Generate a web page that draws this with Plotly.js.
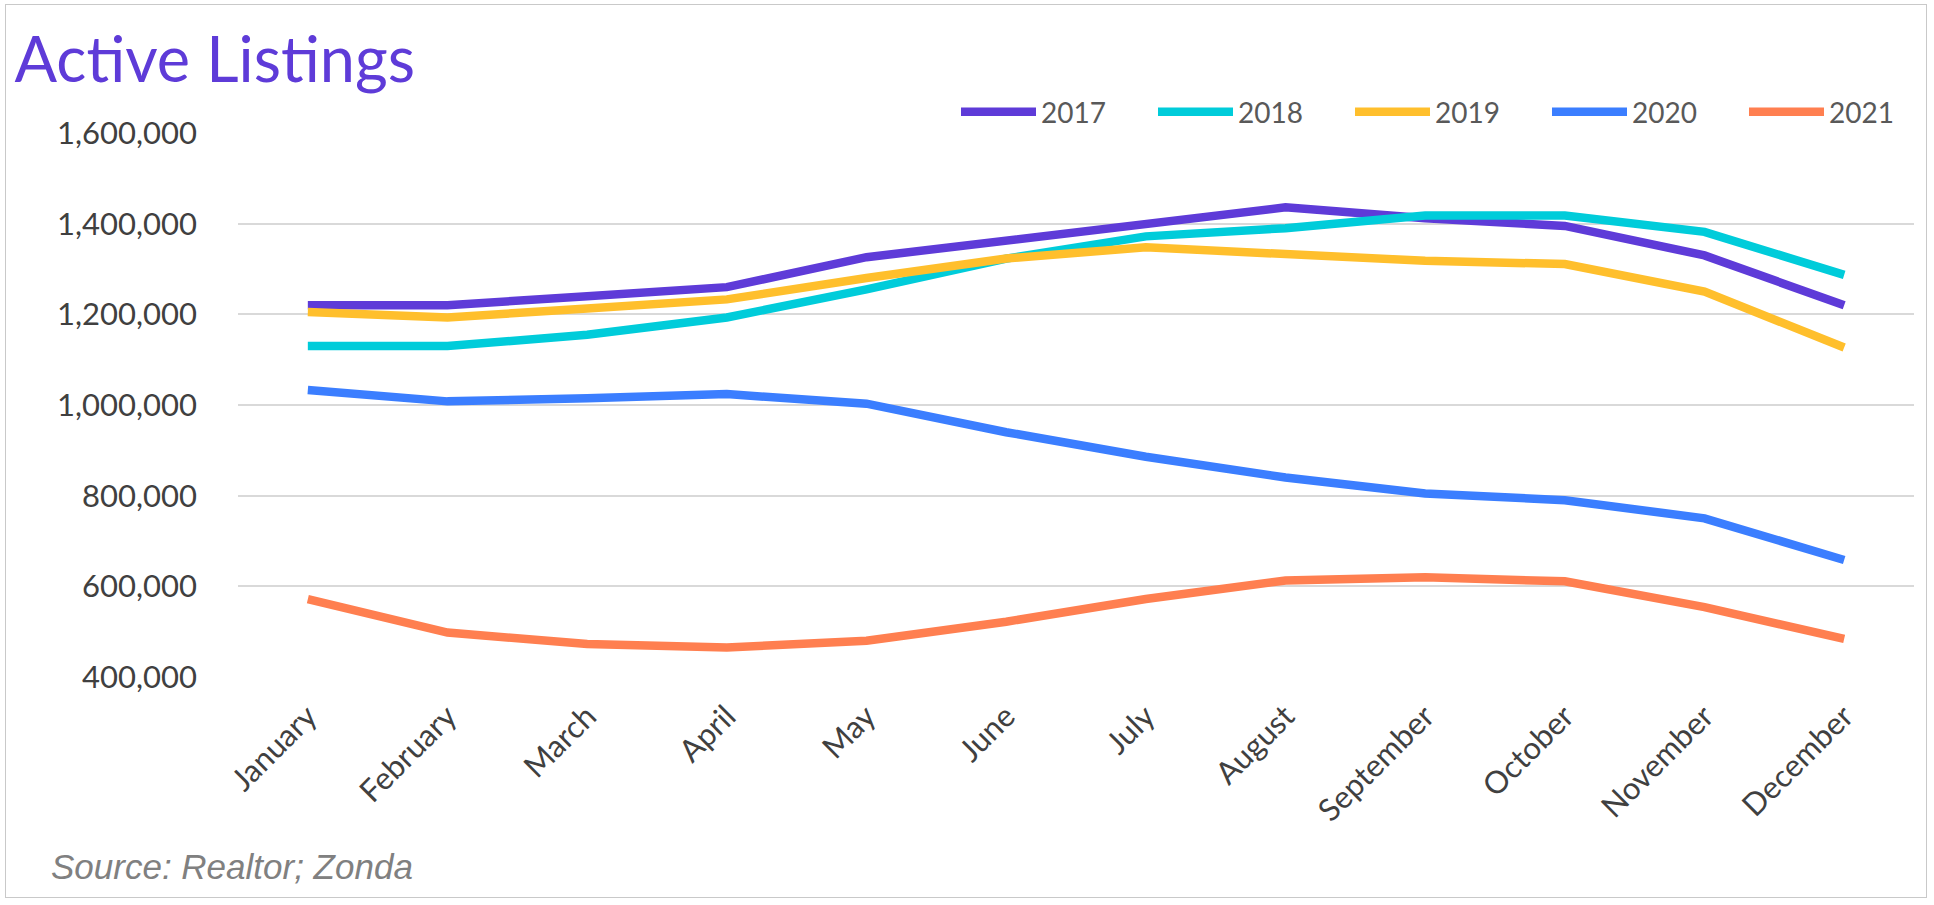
<!DOCTYPE html>
<html>
<head>
<meta charset="utf-8">
<script src="https://cdn.plot.ly/plotly-3.0.1.min.js"></script>
<style>
  html, body { margin: 0; padding: 0; background: #ffffff; }
  #frame { position: absolute; left: 5px; top: 4px; width: 1922px; height: 894px; border: 1px solid #c9c9c9; box-sizing: border-box; pointer-events: none; }
  #chart { width: 1934px; height: 905px; }
</style>
</head>
<body>
<div id="chart"></div>
<div id="frame"></div>
<script>
const months = ["January","February","March","April","May","June","July","August","September","October","November","December"];
const seriesNames = ["2017","2018","2019","2020","2021"];
const seriesColors = ["#5E3BD8","#00CCDA","#FFBF2C","#3B7EFF","#FF7F50"];

const y2017 = [1220000,1220000,1240000,1260000,1326000,1362000,1396000,1436000,1412000,1395000,1330000,1220000];
const y2018 = [1130000,1130000,1155000,1193000,1255000,1323000,1372000,1390000,1418000,1418000,1382000,1287000];
const y2019 = [1205000,1193000,1213000,1233000,1280000,1323000,1348000,1331000,1318000,1311000,1250000,1127000];
const y2020 = [1033000,1008000,1015000,1024000,1003000,940000,886000,840000,805000,790000,750000,658000];
const y2021 = [572000,498000,473000,465000,480000,522000,572000,613000,620000,611000,554000,484000];

const yTickVals = [400000,600000,800000,1000000,1200000,1400000,1600000];
const yTickText = ["400,000","600,000","800,000","1,000,000","1,200,000","1,400,000","1,600,000"];

const allSeries = [y2017, y2018, y2019, y2020, y2021];
const legendWidths = [107, 107, 107, 107, 70];

const traces = allSeries.map((ys, i) => ({
  type: "scatter",
  mode: "lines",
  name: seriesNames[i],
  x: months,
  y: ys,
  legendwidth: legendWidths[i],
  line: { color: seriesColors[i], width: 8.5, shape: "linear" },
  hoverinfo: "x+y+name"
}));

const layout = {
  width: 1934,
  height: 905,
  paper_bgcolor: "#ffffff",
  plot_bgcolor: "#ffffff",
  margin: { l: 238, r: 20, t: 133, b: 228, autoexpand: false },
  title: {
    text: "Active Listings",
    font: { family: "Lato, 'Open Sans', sans-serif", size: 63, color: "#5E3BD8" },
    x: 0.0075, xanchor: "left", xref: "container",
    y: 0.958, yanchor: "top", yref: "container"
  },
  xaxis: {
    type: "category",
    range: [-0.5, 11.5],
    tickangle: -45,
    tickfont: { family: "Lato, sans-serif", size: 31, color: "#404040" },
    showgrid: false,
    zeroline: false,
    showline: false,
    ticks: "",
    ticklabelstandoff: 14,
    fixedrange: true
  },
  yaxis: {
    range: [400000, 1600000],
    tickvals: yTickVals,
    ticktext: yTickText,
    tickfont: { family: "Lato, sans-serif", size: 31, color: "#404040" },
    showgrid: true,
    gridcolor: "#D9D9D9",
    gridwidth: 2.3,
    zeroline: false,
    showline: false,
    ticks: "",
    ticklabelstandoff: 40,
    fixedrange: true
  },
  showlegend: true,
  legend: {
    orientation: "h",
    x: 0.4284, xanchor: "left",
    y: 1.0386, yanchor: "middle",
    font: { family: "Lato, sans-serif", size: 28, color: "#595959" },
    itemwidth: 75,
    bgcolor: "rgba(0,0,0,0)",
    tracegroupgap: 0
  },
  annotations: [{
    text: "Source: Realtor; Zonda",
    xref: "paper", yref: "paper",
    x: -0.1126, xanchor: "left",
    y: -0.349, yanchor: "middle",
    showarrow: false,
    font: { family: "'Liberation Sans', Arial, sans-serif", size: 35, color: "#808080", style: "italic" }
  }]
};

Plotly.newPlot("chart", traces, layout, { displayModeBar: false });
</script>
</body>
</html>
